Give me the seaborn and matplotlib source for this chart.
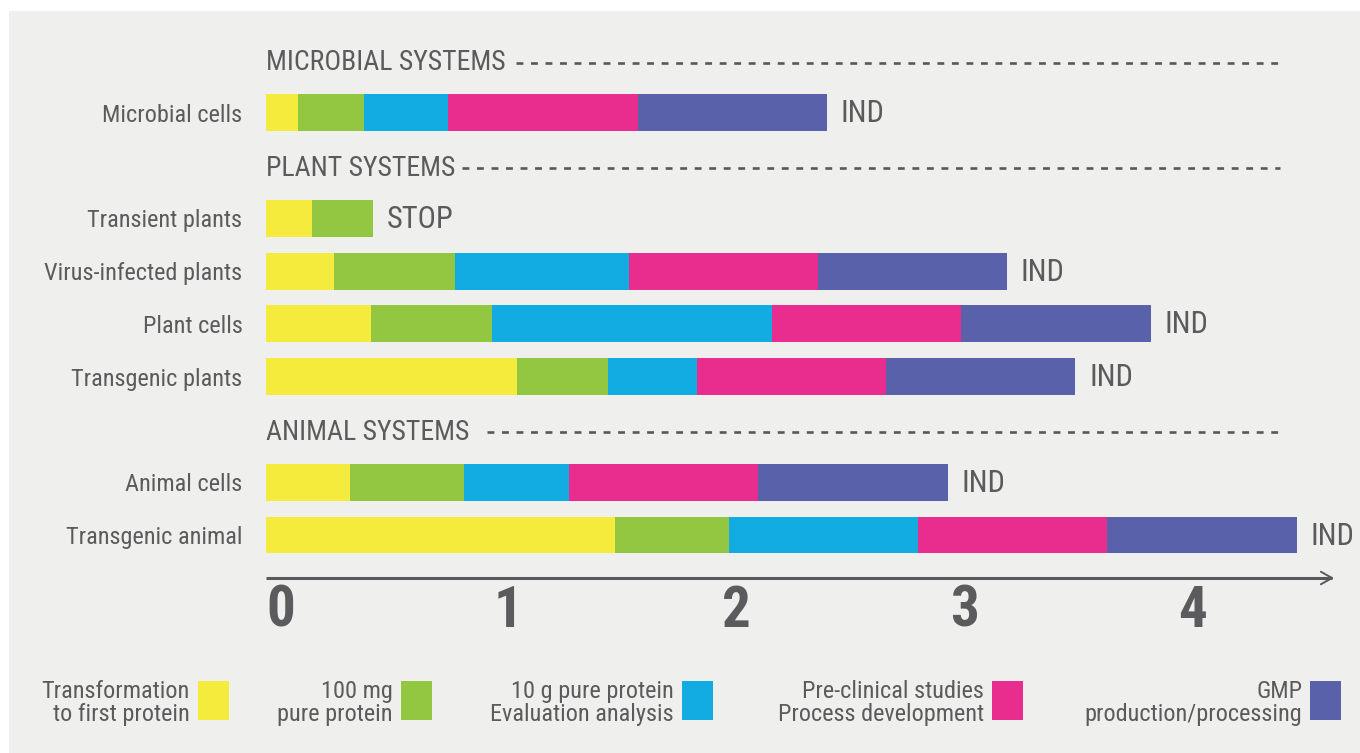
import matplotlib
matplotlib.use("Agg")
import matplotlib.pyplot as plt
from matplotlib.patches import Rectangle
from matplotlib.lines import Line2D
import numpy as np
import pandas as pd
import seaborn as sns

# ---- data (durations in years per development stage) ----
categories = [
    "Microbial cells",
    "Transient plants",
    "Virus-infected plants",
    "Plant cells",
    "Transgenic plants",
    "Animal cells",
    "Transgenic animal",
]
transformation = [0.14, 0.20, 0.30, 0.46, 1.10, 0.37, 1.53]
pure_100mg     = [0.29, 0.27, 0.53, 0.53, 0.40, 0.50, 0.50]
pure_10g       = [0.37, np.nan, 0.76, 1.23, 0.39, 0.46, 0.83]
preclinical    = [0.83, np.nan, 0.83, 0.83, 0.83, 0.83, 0.83]
gmp            = [0.83, np.nan, 0.83, 0.83, 0.83, 0.83, 0.83]
outcome        = ["IND", "STOP", "IND", "IND", "IND", "IND", "IND"]

stage_labels = [
    "Transformation\nto first protein",
    "100 mg\npure protein",
    "10 g pure protein\nEvaluation analysis",
    "Pre-clinical studies\nProcess development",
    "GMP\nproduction/processing",
]
stage_colors = ["#F5EB3C", "#93C741", "#12ABE2", "#E92D8F", "#5861AA"]

section_titles = ["MICROBIAL SYSTEMS", "PLANT SYSTEMS", "ANIMAL SYSTEMS"]
row_order = [
    "MICROBIAL SYSTEMS", "Microbial cells",
    "PLANT SYSTEMS", "Transient plants", "Virus-infected plants",
    "Plant cells", "Transgenic plants",
    "ANIMAL SYSTEMS", "Animal cells", "Transgenic animal",
]
x_ticks = [0, 1, 2, 3, 4]

# ---- style ----
TEXT = "#5B5B5D"
BG = "#EFEFED"
sns.set_style("white")
plt.rcParams["font.family"] = ["Roboto Condensed", "Liberation Sans Narrow",
                               "DejaVu Sans Condensed", "DejaVu Sans"]

W, H = 1360, 753
fig = plt.figure(figsize=(W / 100, H / 100), dpi=100, facecolor="white")
fig.patches.append(Rectangle((9 / W, 0), 1 - 9 / W, 1 - 11 / H,
                             transform=fig.transFigure, facecolor=BG,
                             edgecolor="none", zorder=-10))

# axes: x=0 at 266 px, one year = 228 px; ten equal row slots
px_per_unit = 228.0
left_px, right_px = 266, 1345
top_px, bot_px = 33.6, 561.4
ax = fig.add_axes([left_px / W, 1 - bot_px / H,
                   (right_px - left_px) / W, (bot_px - top_px) / H])
ax.set_facecolor("none")

df = pd.DataFrame({
    "system": categories,
    "s1": transformation, "s2": pure_100mg, "s3": pure_10g,
    "s4": preclinical, "s5": gmp,
})
stage_cols = ["s1", "s2", "s3", "s4", "s5"]
cum = df[stage_cols].cumsum(axis=1, skipna=False)

# stacked bars: draw cumulative totals from the last stage back to the first
for i in reversed(range(len(stage_cols))):
    layer = pd.DataFrame({"system": df["system"], "end": cum[stage_cols[i]]})
    sns.barplot(data=layer, x="end", y="system", order=row_order,
                orient="h", color=stage_colors[i], saturation=1,
                width=0.70, errorbar=None, linewidth=0, ax=ax)

ax.set_xlim(0, (right_px - left_px) / px_per_unit)
ax.set_ylim(len(row_order) - 0.5, -0.5)
ax.set_xlabel("")
ax.set_ylabel("")
for s in ax.spines.values():
    s.set_visible(False)

# row labels
ax.set_yticks(range(len(row_order)))
ax.set_yticklabels(["" if r in section_titles else r for r in row_order],
                   fontsize=17.5, color=TEXT)
ax.tick_params(axis="y", length=0, pad=17)

# outcome labels after each bar
totals = df[stage_cols].sum(axis=1, skipna=True)
for name, tot, lab in zip(categories, totals, outcome):
    y = row_order.index(name)
    ax.text(tot + 14 / px_per_unit, y + 0.02, lab, ha="left", va="center",
            fontsize=22, color=TEXT)

# section headers with dashed leaders
dash_start = {"MICROBIAL SYSTEMS": 516, "PLANT SYSTEMS": 462, "ANIMAL SYSTEMS": 487}
for t in section_titles:
    y = row_order.index(t)
    ax.text(0, y + 0.05, t, ha="left", va="center", fontsize=20, color=TEXT)
    x0 = (dash_start[t] - left_px) / px_per_unit
    x1 = (1280 - left_px) / px_per_unit
    ax.plot([x0, x1], [y + 0.05, y + 0.05], color="#58585A", lw=1.9,
            dashes=(2.6, 2.9), solid_capstyle="butt", dash_capstyle="butt")

# x axis line with open arrow head
slot_px = (bot_px - top_px) / len(row_order)
y_axis = len(row_order) - 0.5 + (578 - bot_px) / slot_px
x_end = (1334 - left_px) / px_per_unit
ax.add_line(Line2D([0, x_end - 0.01], [y_axis, y_axis], color="#5A5A5C",
                   lw=2.2, clip_on=False, solid_capstyle="butt"))
ax.annotate("", xy=(x_end, y_axis), xytext=(x_end - 0.1, y_axis),
            xycoords="data", annotation_clip=False,
            arrowprops=dict(arrowstyle="->,head_length=0.8,head_width=0.45",
                            color="#5A5A5C", lw=1.4, shrinkA=0, shrinkB=0))

# x tick labels
ax.set_xticks(x_ticks)
ax.set_xticklabels([str(v) for v in x_ticks], fontsize=41, fontweight="bold",
                   color=TEXT)
for lbl in ax.get_xticklabels():
    lbl.set_horizontalalignment("left")
ax.tick_params(axis="x", length=0, pad=16)

# legend: text right-aligned to the left of each swatch
sw_left = [198, 401, 682, 992, 1310]
sw_w, sw_top, sw_bot = 31, 681, 720
for xl, lab, col in zip(sw_left, stage_labels, stage_colors):
    fig.patches.append(Rectangle((xl / W, 1 - sw_bot / H), sw_w / W,
                                 (sw_bot - sw_top) / H,
                                 transform=fig.transFigure, facecolor=col,
                                 edgecolor="none"))
    fig.text((xl - 8) / W, 1 - 703 / H, lab, ha="right", va="center",
             fontsize=17.5, color=TEXT, linespacing=1.0)

fig.savefig("out.png", dpi=100, facecolor="white")
